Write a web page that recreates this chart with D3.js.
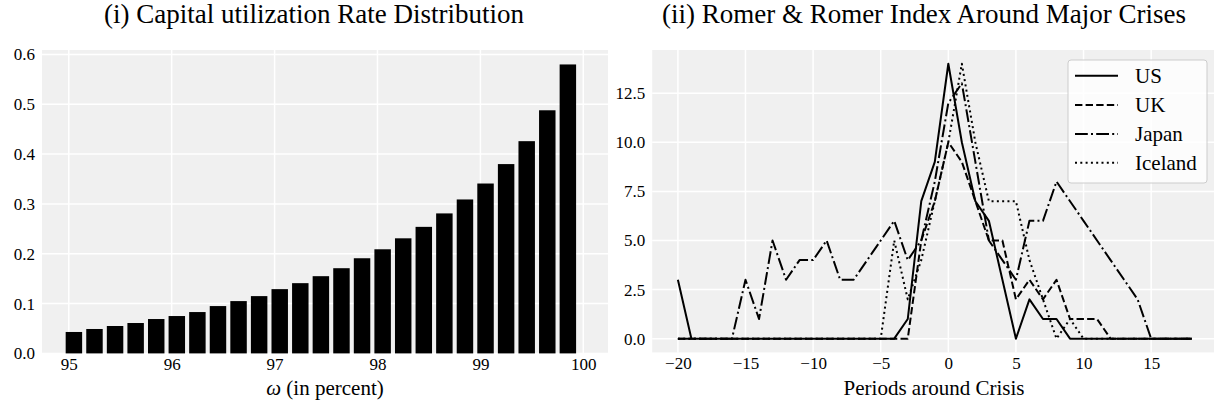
<!DOCTYPE html>
<html>
<head>
<meta charset="utf-8">
<script src="https://cdn.jsdelivr.net/npm/d3@7"></script>
<style>
  html, body { margin: 0; padding: 0; background: #ffffff; }
  svg { display: block; }
  text { font-family: "Liberation Serif", "Times New Roman", serif; fill: #000; }
</style>
</head>
<body>
<svg id="fig" width="1214" height="407"></svg>
<script>
// ---- Panel (i): capital utilization rate distribution ----
const omega = [95.05, 95.25, 95.45, 95.65, 95.85, 96.05, 96.25, 96.45, 96.65, 96.85,
               97.05, 97.25, 97.45, 97.65, 97.85, 98.05, 98.25, 98.45, 98.65, 98.85,
               99.05, 99.25, 99.45, 99.65, 99.85];
const density = [0.043, 0.049, 0.055, 0.061, 0.069, 0.075, 0.083, 0.095, 0.105, 0.115,
                 0.129, 0.141, 0.155, 0.171, 0.191, 0.209, 0.231, 0.254, 0.281, 0.309,
                 0.341, 0.380, 0.426, 0.488, 0.580];
const omegaTicks = [95, 96, 97, 98, 99, 100];
const densityTicks = [0.0, 0.1, 0.2, 0.3, 0.4, 0.5, 0.6];

// ---- Panel (ii): Romer & Romer index around major crises ----
const periods = [-20, -19, -18, -17, -16, -15, -14, -13, -12, -11, -10, -9, -8, -7, -6, -5, -4, -3, -2, -1,
                 0, 1, 2, 3, 4, 5, 6, 7, 8, 9, 10, 11, 12, 13, 14, 15, 16, 17, 18];
const usIndex = [3, 0, 0, 0, 0, 0, 0, 0, 0, 0, 0, 0, 0, 0, 0, 0, 0, 1, 7, 9,
                 14, 10, 7, 6, 3, 0, 2, 1, 1, 0, 0, 0, 0, 0, 0, 0, 0, 0, 0];
const ukIndex = [0, 0, 0, 0, 0, 0, 0, 0, 0, 0, 0, 0, 0, 0, 0, 0, 0, 0, 5, 7,
                 10, 9, 7, 5, 5, 2, 3, 2, 3, 1, 1, 1, 0, 0, 0, 0, 0, 0, 0];
const japanIndex = [0, 0, 0, 0, 0, 3, 1, 5, 3, 4, 4, 5, 3, 3, 4, 5, 6, 4, 5, 8,
                    12, 13, 9, 5, 4, 3, 6, 6, 8, 7, 6, 5, 4, 3, 2, 0, 0, 0, 0];
const icelandIndex = [0, 0, 0, 0, 0, 0, 0, 0, 0, 0, 0, 0, 0, 0, 0, 0, 5, 2, 4, 7,
                      10, 14, 10, 7, 7, 7, 4, 2, 0, 1, 0, 0, 0, 0, 0, 0, 0, 0, 0];
const countries = ["US", "UK", "Japan", "Iceland"];
const periodTicks = [-20, -15, -10, -5, 0, 5, 10, 15];
const indexTicks = [0, 2.5, 5, 7.5, 10, 12.5];

const series = [
  { name: countries[0], values: usIndex, dash: null },
  { name: countries[1], values: ukIndex, dash: "7.4,3.2" },
  { name: countries[2], values: japanIndex, dash: "12.8,3.2,2,3.2" },
  { name: countries[3], values: icelandIndex, dash: "2,3.3" }
];

const svg = d3.select("#fig");
const BG = "#f0f0f0";
const TICK_FONT = 17;
const LABEL_FONT = 21;
const TITLE_FONT = 27;

function fmtMinus(v, digits) {
  const s = digits == null ? String(v) : v.toFixed(digits);
  return s.replace("-", "\u2212");
}

function panelFrame(g, x, y, xTicks, yTicks, xFmt, yFmt) {
  const [x0, x1] = x.range();
  const [y0, y1] = y.range();
  g.append("rect")
    .attr("x", x0).attr("y", y1)
    .attr("width", x1 - x0).attr("height", y0 - y1)
    .attr("fill", BG);
  g.append("g").selectAll("line").data(xTicks).join("line")
    .attr("x1", d => x(d)).attr("x2", d => x(d))
    .attr("y1", y1).attr("y2", y0)
    .attr("stroke", "#ffffff").attr("stroke-width", 1.5);
  g.append("g").selectAll("line").data(yTicks).join("line")
    .attr("x1", x0).attr("x2", x1)
    .attr("y1", d => y(d)).attr("y2", d => y(d))
    .attr("stroke", "#ffffff").attr("stroke-width", 1.5);

  const xAxis = d3.axisBottom(x).tickValues(xTicks).tickFormat(xFmt).tickSize(0).tickPadding(5);
  const gx = g.append("g").attr("transform", `translate(0,${y0})`).call(xAxis);
  gx.select(".domain").remove();
  gx.selectAll("text").attr("font-size", TICK_FONT)
    .attr("font-family", "Liberation Serif, serif").attr("fill", "#000");

  const yAxis = d3.axisLeft(y).tickValues(yTicks).tickFormat(yFmt).tickSize(0).tickPadding(7);
  const gy = g.append("g").attr("transform", `translate(${x0},0)`).call(yAxis);
  gy.select(".domain").remove();
  gy.selectAll("text").attr("font-size", TICK_FONT)
    .attr("font-family", "Liberation Serif, serif").attr("fill", "#000");
}

// ---------- Panel (i) ----------
{
  const g = svg.append("g");
  const x = d3.scaleLinear().domain([94.74, 100.24]).range([42, 608]);
  const y = d3.scaleLinear().domain([0, 0.609]).range([353.4, 50]);
  panelFrame(g, x, y, omegaTicks, densityTicks, d => String(d), d => d.toFixed(1));

  const barW = 0.16;
  g.append("g").selectAll("rect").data(omega).join("rect")
    .attr("x", (d) => x(d - barW / 2))
    .attr("width", x(barW) - x(0))
    .attr("y", (d, i) => y(density[i]))
    .attr("height", (d, i) => y(0) - y(density[i]))
    .attr("fill", "#000");

  const xl = g.append("text")
    .attr("x", 325).attr("y", 395)
    .attr("text-anchor", "middle").attr("font-size", LABEL_FONT);
  xl.append("tspan").attr("font-style", "italic").text("\u03c9");
  xl.append("tspan").text(" (in percent)");

  g.append("text")
    .attr("x", 314).attr("y", 23)
    .attr("text-anchor", "middle").attr("font-size", TITLE_FONT)
    .text("(i) Capital utilization Rate Distribution");
}

// ---------- Panel (ii) ----------
{
  const g = svg.append("g");
  const x = d3.scaleLinear().domain([-21.9, 19.9]).range([652.2, 1217.4]);
  const y = d3.scaleLinear().domain([-0.7, 14.7]).range([352.4, 50]);
  panelFrame(g, x, y, periodTicks, indexTicks, d => fmtMinus(d), d => d.toFixed(1));

  const line = d3.line()
    .x((d, i) => x(periods[i]))
    .y(d => y(d));

  g.append("g").selectAll("path").data(series).join("path")
    .attr("d", s => line(s.values))
    .attr("fill", "none")
    .attr("stroke", "#000")
    .attr("stroke-width", 2)
    .attr("stroke-linejoin", "round")
    .attr("stroke-dasharray", s => s.dash);

  // legend
  const lg = g.append("g");
  lg.append("rect")
    .attr("x", 1068).attr("y", 60)
    .attr("width", 139).attr("height", 123)
    .attr("rx", 3)
    .attr("fill", "#ffffff").attr("fill-opacity", 0.8)
    .attr("stroke", "#cccccc").attr("stroke-width", 1);
  const rowY = [75.7, 105, 134, 162.7];
  const rows = lg.selectAll("g.row").data(series).join("g").attr("class", "row")
    .attr("transform", (d, i) => `translate(0,${rowY[i]})`);
  rows.append("line")
    .attr("x1", 1075).attr("x2", 1118).attr("y1", 0).attr("y2", 0)
    .attr("stroke", "#000").attr("stroke-width", 2)
    .attr("stroke-dasharray", d => d.dash);
  rows.append("text")
    .attr("x", 1135).attr("y", 0).attr("dy", "0.35em")
    .attr("font-size", LABEL_FONT)
    .text(d => d.name);

  g.append("text")
    .attr("x", 934).attr("y", 395)
    .attr("text-anchor", "middle").attr("font-size", LABEL_FONT)
    .text("Periods around Crisis");

  g.append("text")
    .attr("x", 924).attr("y", 23)
    .attr("text-anchor", "middle").attr("font-size", TITLE_FONT)
    .text("(ii) Romer & Romer Index Around Major Crises");
}
</script>
</body>
</html>
